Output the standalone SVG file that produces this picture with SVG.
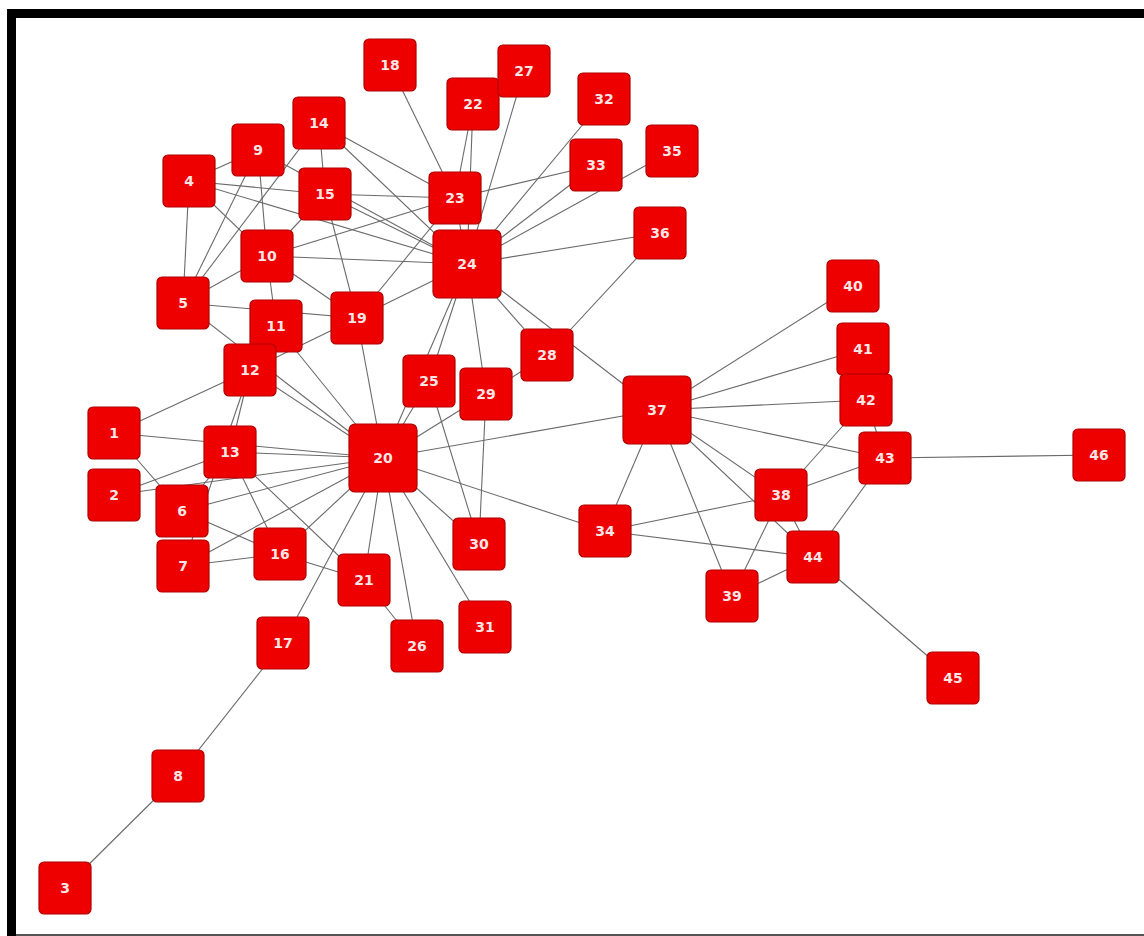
<svg xmlns="http://www.w3.org/2000/svg" width="1144" height="936" viewBox="0 0 1144 936">
<style>
.e{stroke:#6a6a6a;stroke-width:1.1;fill:none}
.n rect{fill:#ee0000;stroke:#b00000;stroke-width:1.2}
.n text{font-family:"DejaVu Sans",Verdana,sans-serif;font-size:14px;font-weight:bold;fill:#fbe6e6;text-anchor:middle}
</style>
<rect x="0" y="0" width="1144" height="936" fill="#ffffff"/>
<rect x="7" y="9" width="1137" height="9" fill="#000"/>
<rect x="7" y="9" width="9" height="927" fill="#000"/>
<rect x="16" y="934" width="1128" height="2" fill="#555"/>
<g id="connectors">
<line class="e" x1="65" y1="888" x2="178" y2="776"/>
<line class="e" x1="178" y1="776" x2="283" y2="643"/>
<line class="e" x1="283" y1="643" x2="383" y2="458"/>
<line class="e" x1="114" y1="433" x2="250" y2="370"/>
<line class="e" x1="114" y1="433" x2="383" y2="458"/>
<line class="e" x1="114" y1="433" x2="182" y2="511"/>
<line class="e" x1="114" y1="495" x2="230" y2="452"/>
<line class="e" x1="114" y1="495" x2="383" y2="458"/>
<line class="e" x1="182" y1="511" x2="230" y2="452"/>
<line class="e" x1="182" y1="511" x2="383" y2="458"/>
<line class="e" x1="182" y1="511" x2="280" y2="554"/>
<line class="e" x1="183" y1="566" x2="383" y2="458"/>
<line class="e" x1="183" y1="566" x2="280" y2="554"/>
<line class="e" x1="250" y1="370" x2="183" y2="566"/>
<line class="e" x1="250" y1="370" x2="230" y2="452"/>
<line class="e" x1="250" y1="370" x2="383" y2="458"/>
<line class="e" x1="183" y1="303" x2="383" y2="458"/>
<line class="e" x1="250" y1="370" x2="357" y2="318"/>
<line class="e" x1="230" y1="452" x2="383" y2="458"/>
<line class="e" x1="230" y1="452" x2="280" y2="554"/>
<line class="e" x1="230" y1="452" x2="364" y2="580"/>
<line class="e" x1="280" y1="554" x2="383" y2="458"/>
<line class="e" x1="280" y1="554" x2="364" y2="580"/>
<line class="e" x1="364" y1="580" x2="383" y2="458"/>
<line class="e" x1="364" y1="580" x2="417" y2="646"/>
<line class="e" x1="417" y1="646" x2="383" y2="458"/>
<line class="e" x1="485" y1="627" x2="383" y2="458"/>
<line class="e" x1="479" y1="544" x2="383" y2="458"/>
<line class="e" x1="479" y1="544" x2="429" y2="381"/>
<line class="e" x1="479" y1="544" x2="486" y2="394"/>
<line class="e" x1="486" y1="394" x2="383" y2="458"/>
<line class="e" x1="429" y1="381" x2="383" y2="458"/>
<line class="e" x1="467" y1="264" x2="383" y2="458"/>
<line class="e" x1="467" y1="264" x2="429" y2="381"/>
<line class="e" x1="467" y1="264" x2="486" y2="394"/>
<line class="e" x1="383" y1="458" x2="657" y2="410"/>
<line class="e" x1="383" y1="458" x2="605" y2="531"/>
<line class="e" x1="276" y1="326" x2="383" y2="458"/>
<line class="e" x1="357" y1="318" x2="383" y2="458"/>
<line class="e" x1="183" y1="303" x2="357" y2="318"/>
<line class="e" x1="267" y1="256" x2="276" y2="326"/>
<line class="e" x1="267" y1="256" x2="357" y2="318"/>
<line class="e" x1="267" y1="256" x2="467" y2="264"/>
<line class="e" x1="267" y1="256" x2="455" y2="198"/>
<line class="e" x1="267" y1="256" x2="325" y2="194"/>
<line class="e" x1="258" y1="150" x2="267" y2="256"/>
<line class="e" x1="189" y1="181" x2="267" y2="256"/>
<line class="e" x1="183" y1="303" x2="267" y2="256"/>
<line class="e" x1="183" y1="303" x2="189" y2="181"/>
<line class="e" x1="183" y1="303" x2="258" y2="150"/>
<line class="e" x1="183" y1="303" x2="319" y2="123"/>
<line class="e" x1="189" y1="181" x2="258" y2="150"/>
<line class="e" x1="189" y1="181" x2="325" y2="194"/>
<line class="e" x1="189" y1="181" x2="467" y2="264"/>
<line class="e" x1="325" y1="194" x2="455" y2="198"/>
<line class="e" x1="325" y1="194" x2="467" y2="264"/>
<line class="e" x1="258" y1="150" x2="467" y2="264"/>
<line class="e" x1="319" y1="123" x2="455" y2="198"/>
<line class="e" x1="319" y1="123" x2="467" y2="264"/>
<line class="e" x1="319" y1="123" x2="325" y2="194"/>
<line class="e" x1="390" y1="65" x2="455" y2="198"/>
<line class="e" x1="473" y1="104" x2="455" y2="198"/>
<line class="e" x1="473" y1="104" x2="467" y2="264"/>
<line class="e" x1="524" y1="71" x2="467" y2="264"/>
<line class="e" x1="455" y1="198" x2="596" y2="165"/>
<line class="e" x1="467" y1="264" x2="604" y2="99"/>
<line class="e" x1="467" y1="264" x2="596" y2="165"/>
<line class="e" x1="467" y1="264" x2="672" y2="151"/>
<line class="e" x1="467" y1="264" x2="660" y2="233"/>
<line class="e" x1="467" y1="264" x2="547" y2="355"/>
<line class="e" x1="467" y1="264" x2="657" y2="410"/>
<line class="e" x1="547" y1="355" x2="660" y2="233"/>
<line class="e" x1="547" y1="355" x2="486" y2="394"/>
<line class="e" x1="357" y1="318" x2="455" y2="198"/>
<line class="e" x1="357" y1="318" x2="467" y2="264"/>
<line class="e" x1="325" y1="194" x2="357" y2="318"/>
<line class="e" x1="455" y1="198" x2="467" y2="264"/>
<line class="e" x1="657" y1="410" x2="853" y2="286"/>
<line class="e" x1="657" y1="410" x2="863" y2="349"/>
<line class="e" x1="657" y1="410" x2="866" y2="400"/>
<line class="e" x1="657" y1="410" x2="885" y2="458"/>
<line class="e" x1="657" y1="410" x2="781" y2="495"/>
<line class="e" x1="657" y1="410" x2="813" y2="557"/>
<line class="e" x1="657" y1="410" x2="732" y2="596"/>
<line class="e" x1="657" y1="410" x2="605" y2="531"/>
<line class="e" x1="605" y1="531" x2="781" y2="495"/>
<line class="e" x1="605" y1="531" x2="813" y2="557"/>
<line class="e" x1="781" y1="495" x2="732" y2="596"/>
<line class="e" x1="732" y1="596" x2="813" y2="557"/>
<line class="e" x1="781" y1="495" x2="866" y2="400"/>
<line class="e" x1="781" y1="495" x2="885" y2="458"/>
<line class="e" x1="885" y1="458" x2="813" y2="557"/>
<line class="e" x1="866" y1="400" x2="885" y2="458"/>
<line class="e" x1="885" y1="458" x2="1099" y2="455"/>
<line class="e" x1="813" y1="557" x2="953" y2="678"/>
<line class="e" x1="781" y1="495" x2="813" y2="557"/>
</g>
<g id="n1" class="n"><rect x="88" y="407" width="52" height="52" rx="5"/><text x="114" y="438">1</text></g>
<g id="n2" class="n"><rect x="88" y="469" width="52" height="52" rx="5"/><text x="114" y="500">2</text></g>
<g id="n3" class="n"><rect x="39" y="862" width="52" height="52" rx="5"/><text x="65" y="893">3</text></g>
<g id="n4" class="n"><rect x="163" y="155" width="52" height="52" rx="5"/><text x="189" y="186">4</text></g>
<g id="n5" class="n"><rect x="157" y="277" width="52" height="52" rx="5"/><text x="183" y="308">5</text></g>
<g id="n6" class="n"><rect x="156" y="485" width="52" height="52" rx="5"/><text x="182" y="516">6</text></g>
<g id="n7" class="n"><rect x="157" y="540" width="52" height="52" rx="5"/><text x="183" y="571">7</text></g>
<g id="n8" class="n"><rect x="152" y="750" width="52" height="52" rx="5"/><text x="178" y="781">8</text></g>
<g id="n9" class="n"><rect x="232" y="124" width="52" height="52" rx="5"/><text x="258" y="155">9</text></g>
<g id="n10" class="n"><rect x="241" y="230" width="52" height="52" rx="5"/><text x="267" y="261">10</text></g>
<g id="n11" class="n"><rect x="250" y="300" width="52" height="52" rx="5"/><text x="276" y="331">11</text></g>
<g id="n12" class="n"><rect x="224" y="344" width="52" height="52" rx="5"/><text x="250" y="375">12</text></g>
<g id="n13" class="n"><rect x="204" y="426" width="52" height="52" rx="5"/><text x="230" y="457">13</text></g>
<g id="n14" class="n"><rect x="293" y="97" width="52" height="52" rx="5"/><text x="319" y="128">14</text></g>
<g id="n15" class="n"><rect x="299" y="168" width="52" height="52" rx="5"/><text x="325" y="199">15</text></g>
<g id="n16" class="n"><rect x="254" y="528" width="52" height="52" rx="5"/><text x="280" y="559">16</text></g>
<g id="n17" class="n"><rect x="257" y="617" width="52" height="52" rx="5"/><text x="283" y="648">17</text></g>
<g id="n18" class="n"><rect x="364" y="39" width="52" height="52" rx="5"/><text x="390" y="70">18</text></g>
<g id="n19" class="n"><rect x="331" y="292" width="52" height="52" rx="5"/><text x="357" y="323">19</text></g>
<g id="n20" class="n"><rect x="349" y="424" width="68" height="68" rx="6"/><text x="383" y="463">20</text></g>
<g id="n21" class="n"><rect x="338" y="554" width="52" height="52" rx="5"/><text x="364" y="585">21</text></g>
<g id="n22" class="n"><rect x="447" y="78" width="52" height="52" rx="5"/><text x="473" y="109">22</text></g>
<g id="n23" class="n"><rect x="429" y="172" width="52" height="52" rx="5"/><text x="455" y="203">23</text></g>
<g id="n24" class="n"><rect x="433" y="230" width="68" height="68" rx="6"/><text x="467" y="269">24</text></g>
<g id="n25" class="n"><rect x="403" y="355" width="52" height="52" rx="5"/><text x="429" y="386">25</text></g>
<g id="n26" class="n"><rect x="391" y="620" width="52" height="52" rx="5"/><text x="417" y="651">26</text></g>
<g id="n27" class="n"><rect x="498" y="45" width="52" height="52" rx="5"/><text x="524" y="76">27</text></g>
<g id="n28" class="n"><rect x="521" y="329" width="52" height="52" rx="5"/><text x="547" y="360">28</text></g>
<g id="n29" class="n"><rect x="460" y="368" width="52" height="52" rx="5"/><text x="486" y="399">29</text></g>
<g id="n30" class="n"><rect x="453" y="518" width="52" height="52" rx="5"/><text x="479" y="549">30</text></g>
<g id="n31" class="n"><rect x="459" y="601" width="52" height="52" rx="5"/><text x="485" y="632">31</text></g>
<g id="n32" class="n"><rect x="578" y="73" width="52" height="52" rx="5"/><text x="604" y="104">32</text></g>
<g id="n33" class="n"><rect x="570" y="139" width="52" height="52" rx="5"/><text x="596" y="170">33</text></g>
<g id="n34" class="n"><rect x="579" y="505" width="52" height="52" rx="5"/><text x="605" y="536">34</text></g>
<g id="n35" class="n"><rect x="646" y="125" width="52" height="52" rx="5"/><text x="672" y="156">35</text></g>
<g id="n36" class="n"><rect x="634" y="207" width="52" height="52" rx="5"/><text x="660" y="238">36</text></g>
<g id="n37" class="n"><rect x="623" y="376" width="68" height="68" rx="6"/><text x="657" y="415">37</text></g>
<g id="n38" class="n"><rect x="755" y="469" width="52" height="52" rx="5"/><text x="781" y="500">38</text></g>
<g id="n39" class="n"><rect x="706" y="570" width="52" height="52" rx="5"/><text x="732" y="601">39</text></g>
<g id="n40" class="n"><rect x="827" y="260" width="52" height="52" rx="5"/><text x="853" y="291">40</text></g>
<g id="n41" class="n"><rect x="837" y="323" width="52" height="52" rx="5"/><text x="863" y="354">41</text></g>
<g id="n42" class="n"><rect x="840" y="374" width="52" height="52" rx="5"/><text x="866" y="405">42</text></g>
<g id="n43" class="n"><rect x="859" y="432" width="52" height="52" rx="5"/><text x="885" y="463">43</text></g>
<g id="n44" class="n"><rect x="787" y="531" width="52" height="52" rx="5"/><text x="813" y="562">44</text></g>
<g id="n45" class="n"><rect x="927" y="652" width="52" height="52" rx="5"/><text x="953" y="683">45</text></g>
<g id="n46" class="n"><rect x="1073" y="429" width="52" height="52" rx="5"/><text x="1099" y="460">46</text></g>
</svg>
